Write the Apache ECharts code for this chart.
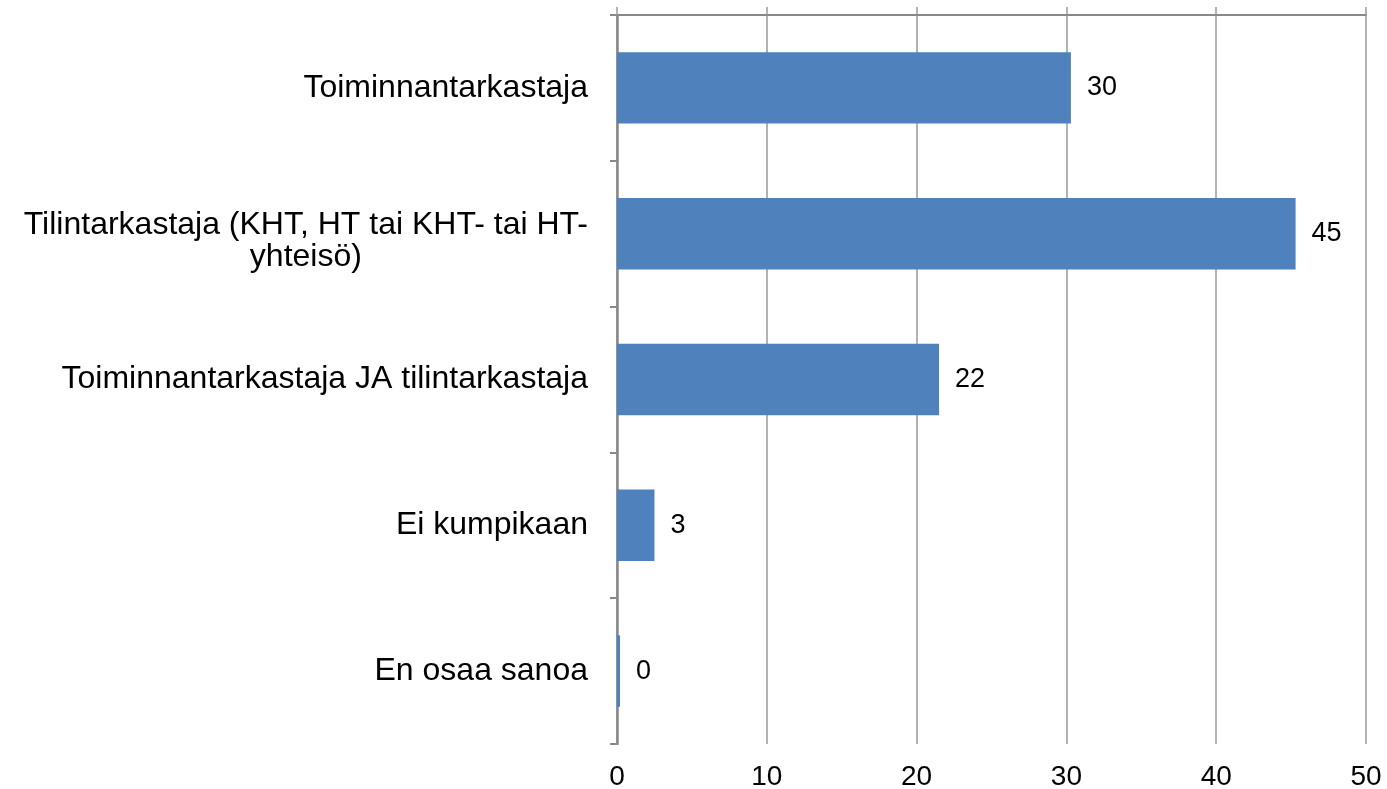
<!DOCTYPE html>
<html>
<head>
<meta charset="utf-8">
<title>Tarkastaja</title>
<script src="https://cdn.jsdelivr.net/npm/echarts@6/dist/echarts.min.js"></script>
<style>
html, body { margin: 0; padding: 0; background: #fff; }
#main { width: 1387px; height: 789px; }
</style>
</head>
<body>
<div id="main"></div>
<script>
var categories = [ 'Toiminnantarkastaja',
		'Tilintarkastaja (KHT, HT tai KHT- tai HT-\nyhteisö)',
		'Toiminnantarkastaja JA tilintarkastaja', 'Ei kumpikaan',
		'En osaa sanoa' ];
var values = [ 30.3, 45.3, 21.5, 2.5, 0.2 ];
var valueLabels = [ '30', '45', '22', '3', '0' ];
var xTicks = [ 0, 50, 10 ]; // min, max, interval

var font = 'Liberation Sans, Arial, sans-serif';

// kaksirivinen nimi hieman alemmas kuten alkuperäisessä
var catData = categories.map(function(c) {
	if (c.indexOf('\n') >= 0) {
		return {
			value : c,
			textStyle : {
				padding : [ 14, 0, 0, 0 ]
			}
		};
	}
	return c;
});

var myChart = echarts.init(document.getElementById('main'));
var option = {
	animation : false,
	grid : {
		left : 617,
		right : 21,
		top : 15,
		bottom : 45,
		containLabel : false,
		outerBoundsMode : 'none'
	},
	xAxis : [ {
		type : 'value',
		position : 'top',
		min : xTicks[0],
		max : xTicks[1],
		interval : xTicks[2],
		axisLine : {
			show : true,
			lineStyle : {
				color : '#888888',
				width : 2
			}
		},
		axisTick : {
			show : true,
			inside : false,
			length : 8,
			lineStyle : {
				color : '#999999',
				width : 1.5
			}
		},
		axisLabel : {
			show : false
		},
		splitLine : {
			show : true,
			lineStyle : {
				color : '#999999',
				width : 1.5
			}
		}
	}, {
		type : 'value',
		position : 'bottom',
		min : xTicks[0],
		max : xTicks[1],
		interval : xTicks[2],
		axisLine : {
			show : false
		},
		axisTick : {
			show : false
		},
		splitLine : {
			show : false
		},
		axisLabel : {
			show : true,
			margin : 19,
			color : '#000',
			fontSize : 28,
			fontFamily : font
		}
	} ],
	yAxis : {
		type : 'category',
		inverse : true,
		data : catData,
		axisLine : {
			show : true,
			lineStyle : {
				color : '#888888',
				width : 2.5
			}
		},
		axisTick : {
			show : true,
			length : 7,
			lineStyle : {
				color : '#888888',
				width : 2
			}
		},
		axisLabel : {
			margin : 29,
			color : '#000',
			fontSize : 32,
			lineHeight : 32,
			align : 'right',
			fontFamily : font,
			// jokainen rivi keskitetään tekstilohkon sisällä
			formatter : function(value) {
				return value.split('\n').map(function(s) {
					return '{c|' + s + '}';
				}).join('\n');
			},
			rich : {
				c : {
					align : 'center',
					color : '#000',
					fontSize : 32,
					lineHeight : 32,
					fontFamily : font
				}
			}
		}
	},
	series : [ {
		type : 'bar',
		xAxisIndex : 0,
		data : values,
		barWidth : '49%',
		itemStyle : {
			color : '#4F81BD'
		},
		label : {
			show : true,
			position : 'right',
			distance : 16,
			color : '#000',
			fontSize : 27,
			fontFamily : font,
			formatter : function(params) {
				return valueLabels[params.dataIndex];
			}
		}
	} ]
};
myChart.setOption(option);
</script>
</body>
</html>
